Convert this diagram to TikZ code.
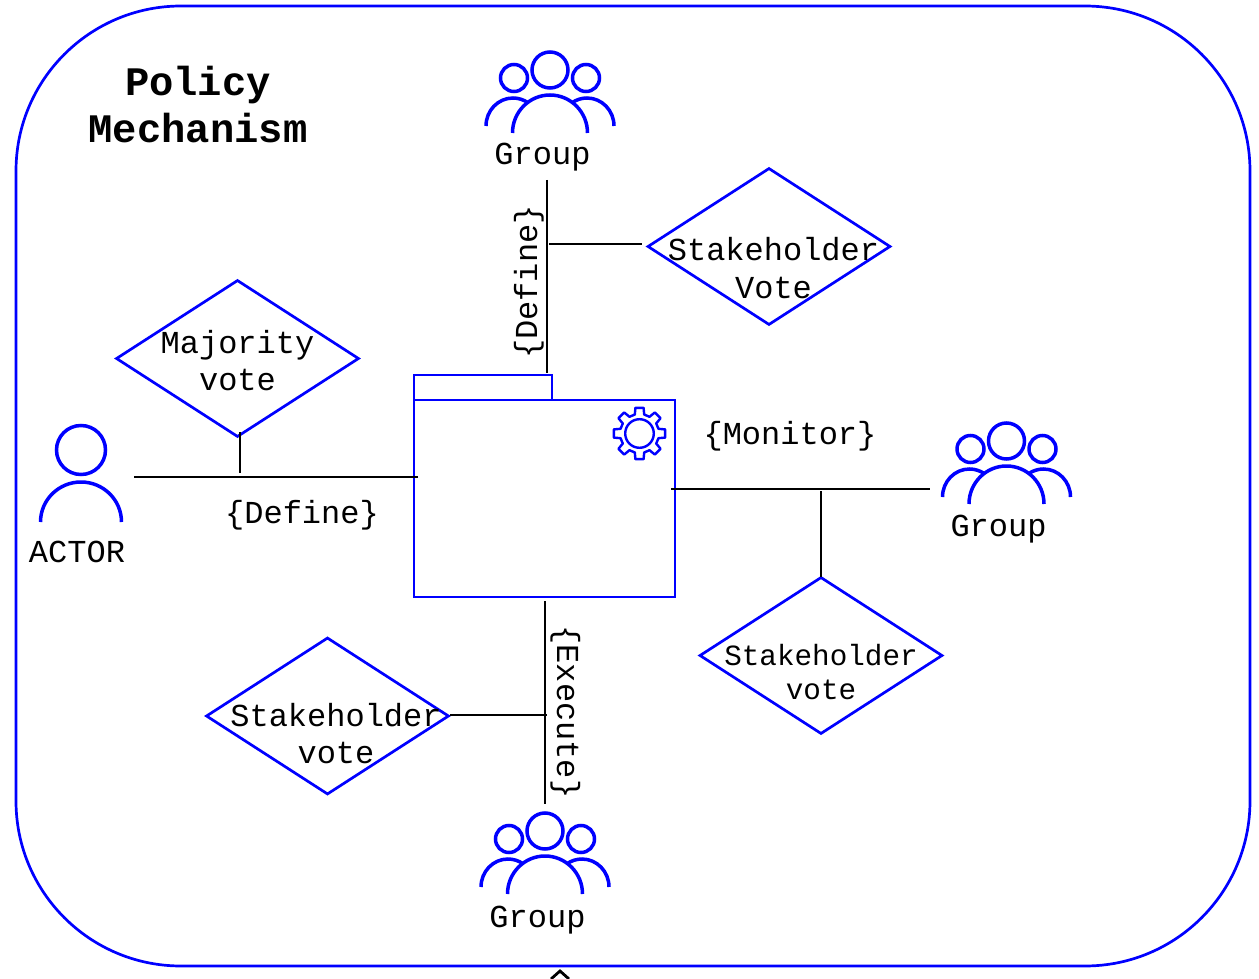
\documentclass[tikz,border=0pt]{standalone}
\usepackage{fontspec}
\setmainfont{Liberation Mono}
\usetikzlibrary{shapes.geometric}
\tikzset{
  blueline/.style={draw=blue,line width=2.7pt},
  conn/.style={draw=black,line width=2.8pt},
  icon/.style={draw=blue,line width=3.5pt},
  dia/.style={shape=diamond,blueline,inner sep=0pt,minimum width=243pt,minimum height=157pt},
  txt/.style={anchor=base,inner sep=0pt,font=\fontsize{32}{36}\selectfont},
  txts/.style={anchor=base,inner sep=0pt,font=\fontsize{29.3}{33}\selectfont},
  ttl/.style={anchor=base,inner sep=0pt,font=\fontsize{40.5}{44}\selectfont\bfseries},
  groupicon/.pic={
    \draw[icon] (0,0) circle[radius=18];
    \draw[icon] (-36,-8) circle[radius=13.5];
    \draw[icon] (36,-8) circle[radius=13.5];
    \draw[icon] (-37.5,-63) arc[start angle=180,end angle=0,x radius=37.5,y radius=38];
    \draw[icon] (-64,-56) arc[start angle=180,end angle=56,x radius=27,y radius=28];
    \draw[icon] (64,-56) arc[start angle=0,end angle=124,x radius=27,y radius=28];
  },
  actoricon/.pic={
    \draw[icon] (0,0) circle[radius=24.5];
    \draw[icon] (-40.5,-72) arc[start angle=180,end angle=0,x radius=40.5,y radius=40];
  },
  gearicon/.pic={
    \draw[draw=blue,line width=2.4pt] (0,0) circle[radius=14.3];
    \draw[draw=blue,line width=2.4pt,line join=round]
      (-14:19.5) \foreach \a in {0,45,...,315}{
        -- (\a-14:19.5) -- (\a-9:26) -- (\a+9:26) -- (\a+14:19.5)
      } -- cycle;
  }
}
\begin{document}
\begin{tikzpicture}[x=1pt,y=1pt]
\useasboundingbox (0,0) rectangle (1259,-979);
% frame
\node[blueline,rectangle,rounded corners=165pt,minimum width=1234pt,minimum height=960pt,inner sep=0pt] (frame) at (633,-486) {};
% title
\node[ttl] (titleA) at (198,-96) {Policy};
\node[ttl] (titleB) at (198,-143) {Mechanism};
% folder
\node[blueline,rectangle,minimum width=261pt,minimum height=197pt,inner sep=0pt] (folder) at (544.5,-498.5) {};
\node[blueline,rectangle,minimum width=138pt,minimum height=25pt,inner sep=0pt] (tab) at (483,-387.5) {};
\pic (gear) at (639.5,-433.5) {gearicon};
% icons
\pic (groupTop) at (550,-70) {groupicon};
\pic (groupRight) at (1006.5,-441) {groupicon};
\pic (groupBottom) at (545,-831) {groupicon};
\pic (actor) at (81,-450) {actoricon};
% icon labels
\node[txt] (lblTop) at (542.5,-165) {Group};
\node[txt] (lblRight) at (998.5,-536) {Group};
\node[txt] (lblBottom) at (537.5,-927) {Group};
\node[txt] (lblActor) at (77,-562) {ACTOR};
% diamonds
\node[dia] (dTop) at (769,-246.5) {};
\node[dia] (dMaj) at (237.5,-358.5) {};
\node[dia] (dRight) at (821,-655.5) {};
\node[dia] (dLeft) at (327.5,-716) {};
\node[txt] (tTopA) at (773.5,-260) {Stakeholder};
\node[txt] (tTopB) at (773.5,-298) {Vote};
\node[txt] (tMajA) at (237.5,-353) {Majority};
\node[txt] (tMajB) at (237.5,-390) {vote};
\node[txts] (tRightA) at (821,-665) {Stakeholder};
\node[txts] (tRightB) at (821,-699) {vote};
\node[txt] (tLeftA) at (336,-726) {Stakeholder};
\node[txt] (tLeftB) at (336,-763) {vote};
% connector labels
\node[txt,rotate=90] (lDefineV) at (537,-282) {\{Define\}};
\node[txt,rotate=-90] (lExecute) at (557,-712) {\{Execute\}};
\node[txt] (lMonitor) at (790,-444) {\{Monitor\}};
\node[txt] (lDefineH) at (302,-523) {\{Define\}};
% connector ends
\coordinate (c1a) at (547,-180);
\coordinate (c1b) at (547,-373);
\coordinate (c2a) at (549,-244);
\coordinate (c2b) at (642,-244);
\coordinate (c3a) at (134,-477);
\coordinate (c3b) at (418,-477);
\coordinate (c4a) at (240,-432);
\coordinate (c4b) at (240,-473);
\coordinate (c5a) at (671,-489);
\coordinate (c5b) at (930,-489);
\coordinate (c6a) at (821,-491);
\coordinate (c6b) at (821,-577);
\coordinate (c7a) at (545,-601);
\coordinate (c7b) at (545,-804);
\coordinate (c8a) at (450,-715);
\coordinate (c8b) at (547,-715);
\foreach \p/\q in {c1a/c1b,c2a/c2b,c3a/c3b,c4a/c4b,c5a/c5b,c6a/c6b,c7a/c7b,c8a/c8b}{
  \draw[conn] (\p) -- (\q);
}
% partial tip below frame
\coordinate (tipL) at (551,-979);
\coordinate (tipT) at (560,-971);
\coordinate (tipR) at (569,-979);
\draw[conn] (tipL) -- (tipT) -- (tipR);
\end{tikzpicture}
\end{document}
